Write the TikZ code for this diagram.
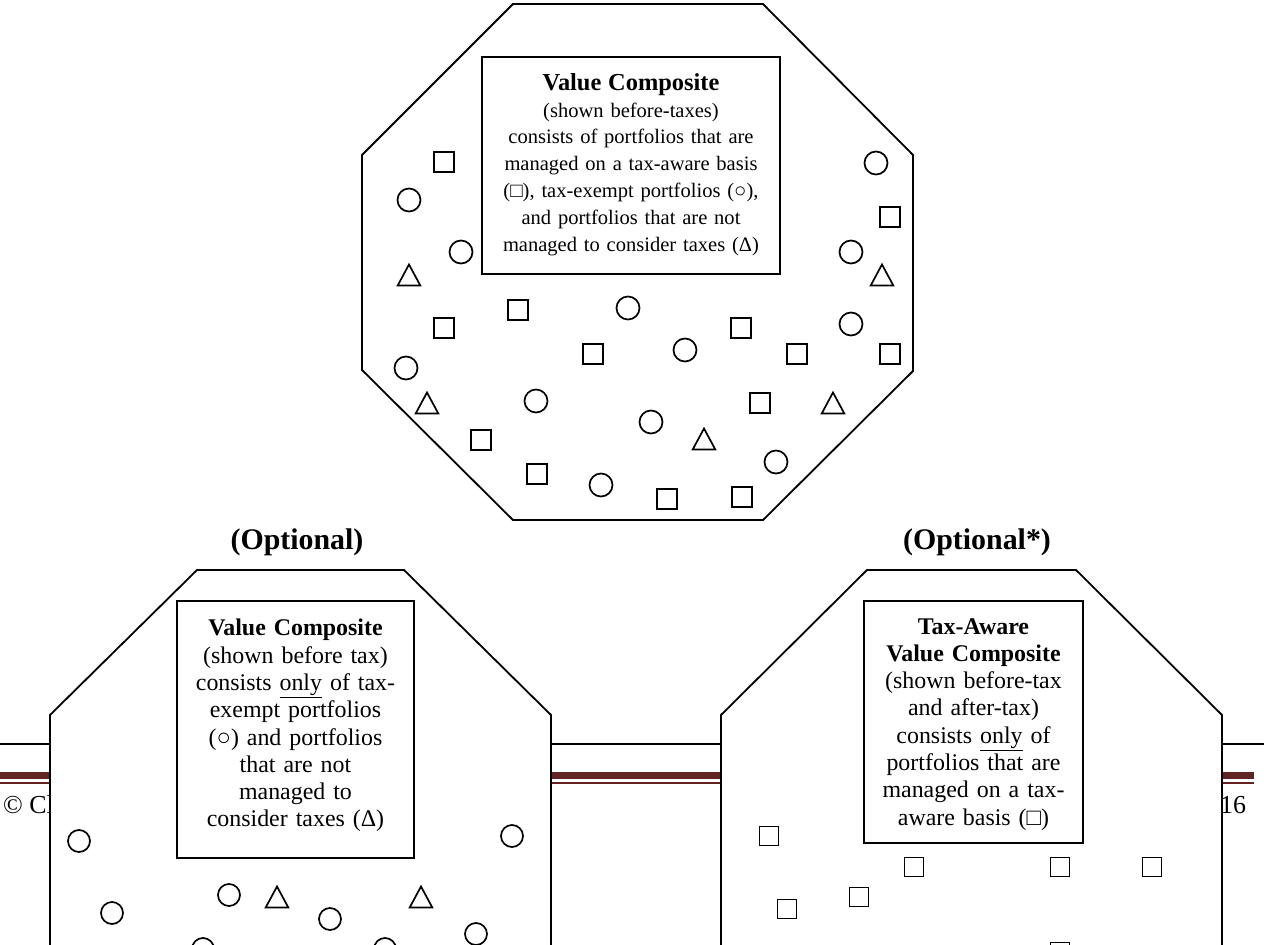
\documentclass[tikz,border=0pt]{standalone}
\usepackage{fontspec}
\setmainfont{Liberation Serif}
\usepackage{xcolor}
\definecolor{hdrred}{HTML}{622423}
\usepackage{tikz}
\usetikzlibrary{positioning}

\begin{document}
\begin{tikzpicture}[x=1bp,y=-1bp,
  outline/.style={draw=black,line width=1.8bp,fill=white,line join=miter},
  cbox/.style={draw=black,line width=1.8bp,fill=white,inner sep=0pt},
  btxt/.style={align=center,inner sep=0pt,text width=#1},
  btxt/.default=220bp,
  sqmark/.style={draw,line width=1.7bp,minimum size=19.5bp,inner sep=0pt},
  circmark/.style={draw,circle,line width=1.7bp,minimum size=23bp,inner sep=0pt},
  trimark/.style={draw,line width=1.7bp,line join=miter},
  opt/.style={font=\fontsize{30}{32}\selectfont\bfseries,inner sep=0pt},
  foot/.style={font=\fontsize{26}{28}\selectfont,inner sep=0pt,anchor=base west}]
  \useasboundingbox (0,0) rectangle (1264,945);
  \draw[line width=1.3bp] (0,744) -- (1264,744);
  \draw[hdrred,line width=7.3bp] (0,775.7) -- (1254,775.7);
  \draw[hdrred,line width=2bp] (0,782.7) -- (1254,782.7);
  \node[foot] (copy) at (3,813) {© Cl};
  \node[foot] (pageno) at (1220,813) {16};

  \draw[outline] (513,4) -- (763,4) -- (913,155) -- (913,371) -- (763,520) -- (513,520)
    -- (362,370) -- (362,155) -- cycle;
  \draw[outline] (197,570) -- (404,570) -- (551,715) -- (551,950) -- (50,950) -- (50,715) -- cycle;
  \draw[outline] (867,570) -- (1076,570) -- (1222,715) -- (1222,950) -- (721,950) -- (721,715) -- cycle;

  \node[cbox,minimum width=298bp,minimum height=217bp] (topbox) at (631,165.5) {};
  \node[btxt=290bp,below=17bp of topbox.north,font=\fontsize{20.6}{26.9}\selectfont] (toptext)
    {{\fontsize{24.5}{26}\selectfont\bfseries Value Composite}\\(shown before-taxes)\\
     consists of portfolios that are\\managed on a tax-aware basis\\
     (□), tax-exempt portfolios (○),\\and portfolios that are not\\managed to consider taxes (Δ)};
  \node[cbox,minimum width=237bp,minimum height=257bp] (leftbox) at (295.5,729.5) {};
  \node[btxt=230bp,below=19bp of leftbox.north,font=\fontsize{24}{27.4}\selectfont] (lefttext)
    {{\bfseries Value Composite}\\(shown before tax)\\consists \underline{only} of tax-\\
     exempt portfolios\\(○) and portfolios\\that are not\\managed to\\consider taxes (Δ)};
  \node[cbox,minimum width=219bp,minimum height=242bp] (rightbox) at (973.5,722) {};
  \node[btxt=212bp,below=18bp of rightbox.north,font=\fontsize{24}{27.4}\selectfont] (righttext)
    {{\bfseries Tax-Aware\\Value Composite}\\(shown before-tax\\and after-tax)\\
     consists \underline{only} of\\portfolios that are\\managed on a tax-\\aware basis (□)};

  \node[opt] (optL) at (297,542) {(Optional)};
  \node[opt] (optR) at (977,542) {(Optional*)};

  \foreach \x/\y [count=\i] in {444/162,890/217,518/310,444/328,593/354,741/328,797/354,
    890/354,760/403,481/440,537/474,667/499,742/497}
    \node[sqmark] (topsq\i) at (\x,\y) {};
  \foreach \x/\y [count=\i] in {409/200,461/252,628/308,406/368,536/401,601/485,876/163,
    851/252,685/350,851/324,651/422,776/462}
    \node[circmark] (topci\i) at (\x,\y) {};
  \foreach \x/\y in {409/275,882/275,427/403,833/403,704/439}
    \draw[trimark] ({\x-11.3},{\y+10.5}) -- (\x,{\y-10.5}) -- ({\x+11.3},{\y+10.5}) -- cycle;

  \foreach \x/\y [count=\i] in {79/841,112/913,229/895,330/919,203/949,385/949,512/836,476/934}
    \node[circmark,minimum size=22bp] (leftci\i) at (\x,\y) {};
  \foreach \x/\y in {277/897,421/897}
    \draw[trimark] ({\x-11.3},{\y+10.5}) -- (\x,{\y-10.5}) -- ({\x+11.3},{\y+10.5}) -- cycle;

  \foreach \x/\y [count=\i] in {769/836,787/909,859/897,914/867,1060/867,1152/867,1060/952}
    \node[sqmark,minimum size=19bp] (rightsq\i) at (\x,\y) {};
\end{tikzpicture}
\end{document}
